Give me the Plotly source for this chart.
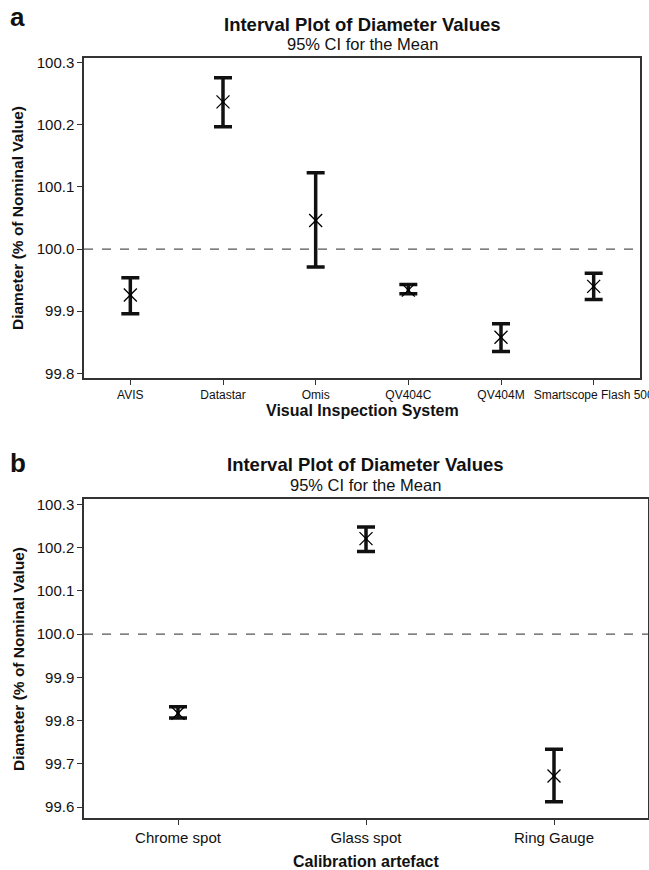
import plotly.graph_objects as go

# ---- data ----
systems = ["AVIS", "Datastar", "Omis", "QV404C", "QV404M", "Smartscope Flash 500"]
means_a = [99.926, 100.237, 100.046, 99.934, 99.858, 99.940]
upper_a = [99.954, 100.276, 100.123, 99.943, 99.880, 99.961]
lower_a = [99.896, 100.197, 99.971, 99.928, 99.835, 99.919]

artefacts = ["Chrome spot", "Glass spot", "Ring Gauge"]
means_b = [99.817, 100.221, 99.672]
upper_b = [99.832, 100.248, 99.734]
lower_b = [99.806, 100.191, 99.612]

ticks_a = [99.8, 99.9, 100.0, 100.1, 100.2, 100.3]
ticks_b = [99.6, 99.7, 99.8, 99.9, 100.0, 100.1, 100.2, 100.3]
nominal = 100.0

W, H = 649, 870
FONT = "Liberation Sans"


def px_x(p):
    return p / W


def px_y(p):
    return 1 - p / H


fig = go.Figure()


def add_interval(cats, means, up, lo, xa, ya):
    fig.add_trace(go.Scatter(
        x=cats, y=means, mode="markers", xaxis=xa, yaxis=ya,
        marker=dict(symbol="x-thin-open", size=13, color="black",
                    line=dict(color="black", width=1.3)),
        error_y=dict(type="data", symmetric=False,
                     array=[u - m for u, m in zip(up, means)],
                     arrayminus=[m - l for m, l in zip(means, lo)],
                     color="#111111", thickness=3.5, width=9),
        showlegend=False, hoverinfo="skip"))


add_interval(systems, means_a, upper_a, lower_a, "x", "y")
add_interval(artefacts, means_b, upper_b, lower_b, "x2", "y2")

axis_common = dict(showline=True, linecolor="#333333", linewidth=1.5, mirror=True,
                   showgrid=False, zeroline=False, ticks="outside", ticklen=5,
                   tickcolor="#333333", tickwidth=1.2, automargin=False)

fig.update_layout(
    width=W, height=H, margin=dict(l=0, r=0, t=0, b=0),
    paper_bgcolor="white", plot_bgcolor="white",
    font=dict(family=FONT, color="#111111"),
    xaxis=dict(domain=[px_x(84), px_x(640)], anchor="y", range=[-0.5, 5.5],
               type="category", tickfont=dict(size=12), **axis_common),
    yaxis=dict(domain=[px_y(378.3), px_y(58)], anchor="x", range=[99.792, 100.3076],
               tickvals=ticks_a, tickformat=".1f", tickfont=dict(size=15), **axis_common),
    xaxis2=dict(domain=[px_x(84), px_x(648)], anchor="y2", range=[-0.5, 2.5],
                type="category", tickfont=dict(size=15), **axis_common),
    yaxis2=dict(domain=[px_y(818.3), px_y(499.3)], anchor="x2", range=[99.574, 100.312],
                tickvals=ticks_b, tickformat=".1f", tickfont=dict(size=15), **axis_common),
)

# dashed reference lines at nominal value
for xr, yr in [("x domain", "y"), ("x2 domain", "y2")]:
    fig.add_shape(type="line", xref=xr, yref=yr, x0=0, x1=1, y0=nominal, y1=nominal,
                  line=dict(color="#555555", width=1.2, dash="dash"), layer="below")


def ann(text, x, y, size, bold=False, angle=0, xanchor="center"):
    fig.add_annotation(text=f"<b>{text}</b>" if bold else text,
                       xref="paper", yref="paper", x=px_x(x), y=px_y(y),
                       xanchor=xanchor, yanchor="middle", showarrow=False,
                       textangle=angle, font=dict(family=FONT, size=size, color="#111111"))


# panel a
ann("a", 8, 17, 26, bold=True, xanchor="left")
ann("Interval Plot of Diameter Values", 362, 24, 18.5, bold=True)
ann("95% CI for the Mean", 362, 44, 16.5)
ann("Visual Inspection System", 362, 411, 16, bold=True)
ann("Diameter (% of Nominal Value)", 18, 218, 15.5, bold=True, angle=-90)

# panel b
ann("b", 8, 463, 26, bold=True, xanchor="left")
ann("Interval Plot of Diameter Values", 366, 464, 18.5, bold=True)
ann("95% CI for the Mean", 366, 485, 16.5)
ann("Calibration artefact", 366, 861, 16, bold=True)
ann("Diameter (% of Nominal Value)", 18, 659, 15.5, bold=True, angle=-90)

fig.write_html("out.html")
